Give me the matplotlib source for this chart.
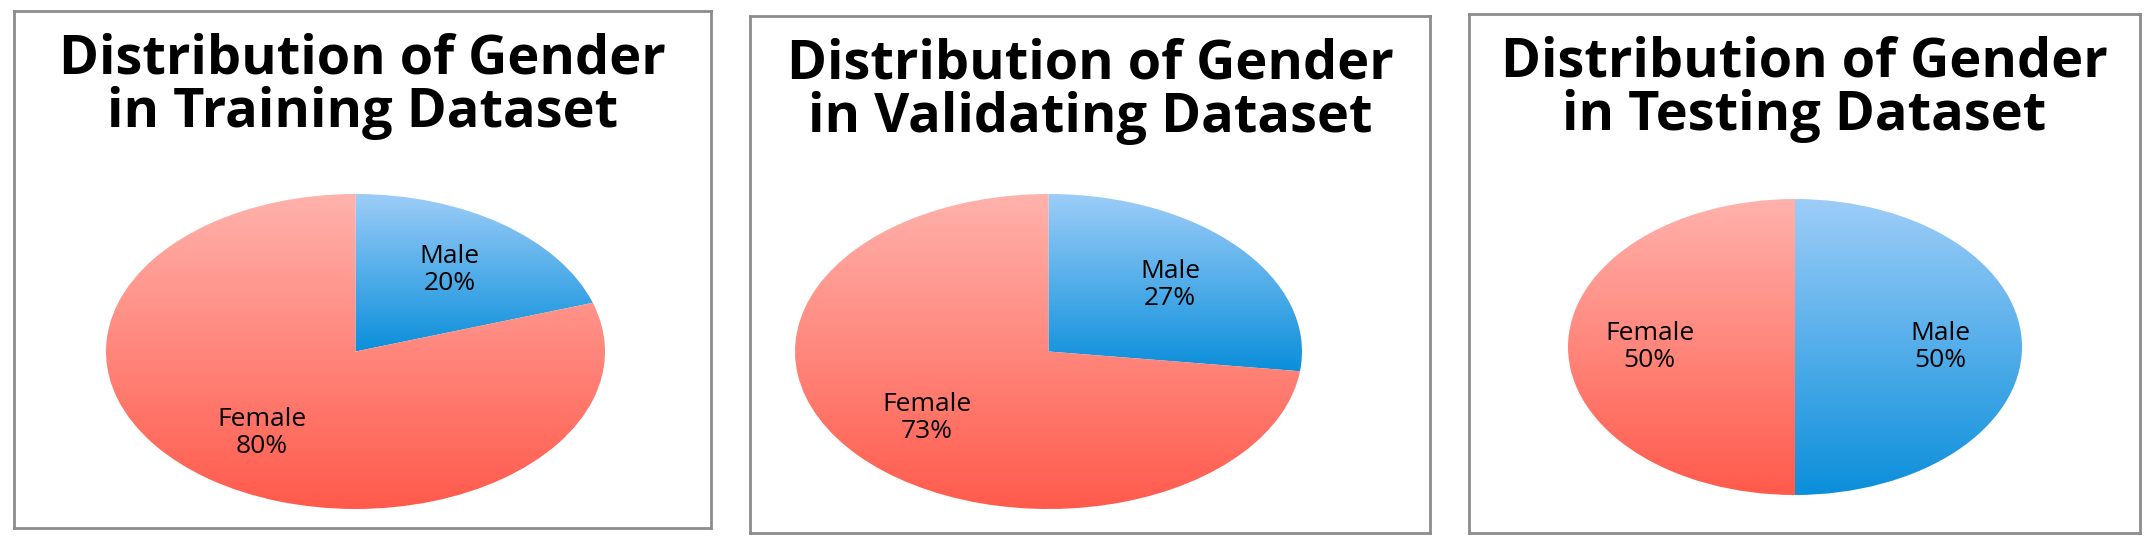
import matplotlib

matplotlib.use("Agg")

import matplotlib.pyplot as plt  # noqa: E402
import numpy as np  # noqa: E402
from matplotlib.colors import LinearSegmentedColormap  # noqa: E402

plt.rcParams["font.family"] = ["Open Sans", "DejaVu Sans"]

W, H = 2156, 548

datasets = ["Training", "Validating", "Testing"]
labels = ["Male", "Female"]
male_pct = [20, 27, 50]
female_pct = [80, 73, 50]

# frames and pie ellipse boxes in pixels (x0, y0_top, x1, y1_bottom)
frames = [(14, 11, 711, 528), (750, 16, 1430, 533), (1469, 14, 2140, 533)]
pies = [(106, 194, 605, 509), (795, 194, 1302, 509), (1568, 199, 2022, 495)]

blue = LinearSegmentedColormap.from_list("b", ["#0B8FDB", "#9DCDF8"])
red = LinearSegmentedColormap.from_list("r", ["#FF5A4B", "#FFB2AC"])


def fig_rect(box):
    x0, y0, x1, y1 = box
    return [x0 / W, 1 - y1 / H, (x1 - x0) / W, (y1 - y0) / H]


def gradient_fill(ax, wedge, cmap):
    verts = wedge.get_path().vertices
    ymin, ymax = verts[:, 1].min(), verts[:, 1].max()
    grad = np.linspace(0, 1, 256).reshape(-1, 1)
    im = ax.imshow(grad, extent=[-1.05, 1.05, ymin, ymax], origin="lower",
                   cmap=cmap, aspect="auto", zorder=2)
    im.set_clip_path(wedge)
    wedge.set_facecolor("none")


fig = plt.figure(figsize=(W / 100, H / 100), dpi=100)

for name, m, f, frame, pbox in zip(datasets, male_pct, female_pct, frames, pies):
    fax = fig.add_axes(fig_rect(frame))
    fax.set_xticks([]); fax.set_yticks([])
    for s in fax.spines.values():
        s.set_color("#8C8C8C"); s.set_linewidth(2)
    fax.text(0.5, 0.855, f"Distribution of Gender\nin {name} Dataset", transform=fax.transAxes,
             ha="center", va="center", fontsize=39, fontweight="bold", linespacing=0.98)

    ax = fig.add_axes(fig_rect(pbox))
    wedges, texts = ax.pie([m, f], startangle=90, counterclock=False,
                           labels=[f"{labels[0]}\n{m}%", f"{labels[1]}\n{f}%"],
                           labeldistance=0.64, frame=False,
                           textprops=dict(fontsize=19, ha="center", va="center", linespacing=1.1))
    for t in texts:
        t.set_zorder(5)
    ax.set_aspect("auto")
    ax.set_xlim(-1.0, 1.0); ax.set_ylim(-1.0, 1.0)
    gradient_fill(ax, wedges[0], blue)
    gradient_fill(ax, wedges[1], red)
    ax.axis("off")

fig.savefig("out.png", dpi=100)
